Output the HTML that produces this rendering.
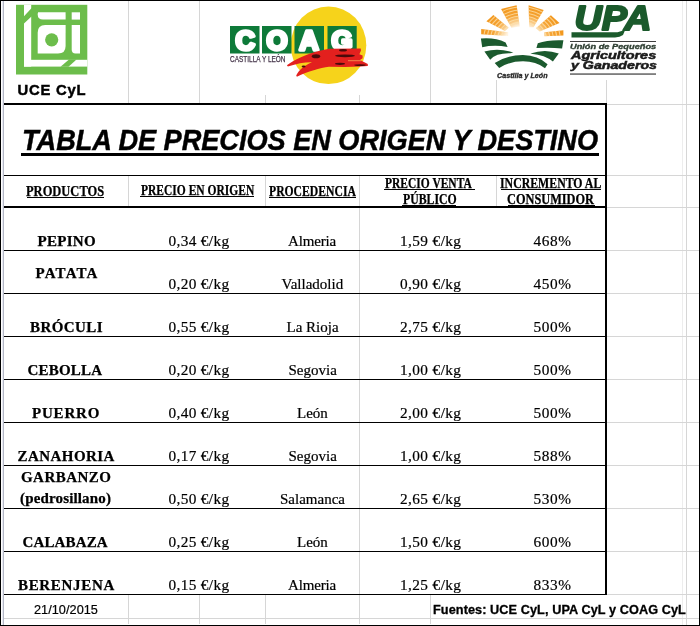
<!DOCTYPE html>
<html><head><meta charset="utf-8"><title>Tabla de precios</title>
<style>
html,body{margin:0;padding:0;background:#fff;}
body{width:700px;height:626px;position:relative;overflow:hidden;}
.t{position:absolute;white-space:pre;line-height:normal;margin:0;}
.k{position:absolute;background:#000;}
.g{position:absolute;background:#d6d6d6;}
.gf{position:absolute;background:#ededed;}
svg{position:absolute;left:0;top:0;}
</style></head><body>
<!-- grid lines (light gray) -->
<!-- top logo row verticals -->
<div class="g" style="left:128px;top:1px;width:1px;height:102px"></div>
<div class="g" style="left:199px;top:1px;width:1px;height:102px"></div>
<div class="g" style="left:265px;top:1px;width:1px;height:102px"></div>
<div class="g" style="left:359px;top:1px;width:1px;height:102px"></div>
<div class="g" style="left:430px;top:1px;width:1px;height:102px"></div>
<div class="g" style="left:496px;top:1px;width:1px;height:102px"></div>
<div class="g" style="left:606px;top:1px;width:1px;height:102px"></div>
<div class="g" style="left:686px;top:1px;width:1px;height:624px"></div>
<div class="gf" style="left:682px;top:1px;width:1px;height:624px"></div>
<!-- header row verticals -->
<div class="g" style="left:128px;top:176px;width:1px;height:30px"></div>
<div class="g" style="left:265px;top:176px;width:1px;height:30px"></div>
<div class="g" style="left:359px;top:176px;width:1px;height:30px"></div>
<div class="g" style="left:496px;top:176px;width:1px;height:30px"></div>
<!-- data rows vertical -->
<div class="g" style="left:359px;top:208px;width:1px;height:386px"></div>
<!-- footer verticals -->
<div class="g" style="left:128px;top:595px;width:1px;height:29px"></div>
<div class="g" style="left:199px;top:595px;width:1px;height:29px"></div>
<div class="g" style="left:265px;top:595px;width:1px;height:29px"></div>
<div class="g" style="left:359px;top:595px;width:1px;height:29px"></div>
<div class="g" style="left:430px;top:595px;width:1px;height:29px"></div>
<!-- right side horizontals -->
<div class="g" style="left:607px;top:104px;width:92px;height:1px"></div>
<div class="g" style="left:607px;top:175px;width:92px;height:1px"></div>
<div class="g" style="left:607px;top:207px;width:92px;height:1px"></div>
<div class="g" style="left:607px;top:250px;width:92px;height:1px"></div>
<div class="g" style="left:607px;top:293px;width:92px;height:1px"></div>
<div class="g" style="left:607px;top:336px;width:92px;height:1px"></div>
<div class="g" style="left:607px;top:379px;width:92px;height:1px"></div>
<div class="g" style="left:607px;top:422px;width:92px;height:1px"></div>
<div class="g" style="left:607px;top:465px;width:92px;height:1px"></div>
<div class="g" style="left:607px;top:508px;width:92px;height:1px"></div>
<div class="g" style="left:607px;top:551px;width:92px;height:1px"></div>
<div class="g" style="left:607px;top:594px;width:92px;height:1px"></div>
<div class="g" style="left:4px;top:618px;width:695px;height:1px"></div>

<!-- frame -->
<div class="k" style="left:0;top:0;width:700px;height:1px"></div>
<div class="k" style="left:0;top:0;width:1px;height:626px"></div>
<div class="k" style="left:699px;top:0;width:1px;height:626px"></div>
<div class="k" style="left:0;top:625px;width:700px;height:1px"></div>
<div style="position:absolute;left:2px;top:1px;width:1px;height:624px;background:#e9eaf3"></div>
<div style="position:absolute;left:3px;top:1px;width:1px;height:624px;background:#b4b8c6"></div>

<!-- table borders -->
<div class="k" style="left:4px;top:103px;width:603px;height:2px"></div>
<div class="k" style="left:605px;top:103px;width:2px;height:492px"></div>
<div class="k" style="left:4px;top:175px;width:601px;height:1px"></div>
<div class="k" style="left:4px;top:206px;width:601px;height:2px"></div>
<div class="k" style="left:4px;top:250px;width:601px;height:1px"></div>
<div class="k" style="left:4px;top:293px;width:601px;height:1px"></div>
<div class="k" style="left:4px;top:336px;width:601px;height:1px"></div>
<div class="k" style="left:4px;top:379px;width:601px;height:1px"></div>
<div class="k" style="left:4px;top:422px;width:601px;height:1px"></div>
<div class="k" style="left:4px;top:465px;width:601px;height:1px"></div>
<div class="k" style="left:4px;top:508px;width:601px;height:1px"></div>
<div class="k" style="left:4px;top:551px;width:601px;height:1px"></div>
<div class="k" style="left:4px;top:594px;width:603px;height:1px"></div>

<!-- underlines -->
<div class="k" style="left:21px;top:153px;width:578px;height:3px"></div>
<div class="k" style="left:27px;top:197px;width:77px;height:1px"></div>
<div class="k" style="left:140px;top:196px;width:114px;height:1px"></div>
<div class="k" style="left:269px;top:197px;width:87px;height:1px"></div>
<div class="k" style="left:384px;top:189px;width:91px;height:1px"></div>
<div class="k" style="left:402px;top:205px;width:54px;height:1px"></div>
<div class="k" style="left:501px;top:189px;width:100px;height:1px"></div>
<div class="k" style="left:508px;top:205px;width:87px;height:1px"></div>

<!-- LOGOS -->
<div style="position:absolute;left:222px;top:1px;width:150px;height:94px;background:#fff"></div>
<div style="position:absolute;left:470px;top:1px;width:192px;height:79px;background:#fff"></div>
<svg width="700" height="110" viewBox="0 0 700 110">
 <defs>
  <radialGradient id="sun" gradientUnits="userSpaceOnUse" cx="522" cy="40" r="40" gradientTransform="translate(522 40) scale(1.08 0.92) translate(-522 -40)">
   <stop offset="0.38" stop-color="#fff3e0"/>
   <stop offset="0.55" stop-color="#f9c57a"/>
   <stop offset="0.7" stop-color="#f5a232"/>
   <stop offset="1" stop-color="#f2961a"/>
  </radialGradient>
 </defs>
 <!-- UCE logo -->
 <g>
  <rect x="16" y="4.8" width="71.3" height="69.7" fill="#6cbd4b"/>
  <g fill="#fff">
   <rect x="24" y="4.8" width="7.2" height="61.8"/>
   <rect x="24" y="59.8" width="63.3" height="6.8"/>
   <path d="M37.7 12.3 H65.6 V19.5 H43 Q37.7 19.5 37.7 14.5 Z"/>
   <path d="M45.2 24.9 H65.6 V46 Q65.6 53.5 58 53.5 H37.7 V32.4 Q37.7 24.9 45.2 24.9 Z"/>
   <rect x="71.7" y="12.3" width="8.3" height="7.3"/>
   <path d="M71.7 24.9 H80 V53.5 H75.5 Q71.7 53.5 71.7 49.5 Z"/>
  </g>
  <g fill="#6cbd4b">
   <path d="M24 16.2 L31.2 8.4 L38 5 L38 13 L31.2 16.8 L24 23.5 Z"/>
   <path d="M69 59.5 L76.5 59.5 L68.5 66.8 L60.5 66.8 Z"/>
   <circle cx="51.7" cy="39.8" r="6.6"/>
  </g>
 </g>
 <!-- COAG logo -->
 <ellipse cx="328.5" cy="45.3" rx="37.8" ry="38.8" fill="#f6d31b"/>
 <g fill="#0e7a39">
  <rect x="230" y="26" width="29.5" height="27.5"/>
  <rect x="262" y="26" width="29.5" height="27.5"/>
  <rect x="294.5" y="26" width="29.5" height="27.5"/>
  <rect x="327.5" y="26" width="29.2" height="27.5"/>
 </g>
 <g font-family="'Liberation Sans',Arial,sans-serif" font-weight="bold" font-size="27" fill="#fff" stroke="#fff" stroke-width="3.4" stroke-linejoin="round" text-anchor="middle">
  <text x="245.2" y="49.5">C</text>
  <text x="277" y="49.5">O</text>
  <text x="309" y="49.5">A</text>
  <text x="342" y="49.5">G</text>
 </g>
 <g fill="#e3201e">
  <path d="M286.9 65.2 C293 60.5 305 54 322 50.2 L329 48.8 L360.7 48.4 L361 50.6 L359.4 54.2 L362.6 55.6 L362.6 58.2 L360 60 L367.8 64 L367.8 66 L360 66.6 L345 66.9 L329 66.8 C320 67.8 308 71.5 296.9 76.8 L296.2 75.5 C299 70 304 65.5 312 62.2 C305 62 297 63.5 287.9 66.5 Z"/>
 </g>
 <g fill="#4a0a0a">
  <ellipse cx="316" cy="56.2" rx="4.2" ry="2"/>
  <ellipse cx="343" cy="50.3" rx="4" ry="1.3"/>
  <ellipse cx="345" cy="55.8" rx="10" ry="1.4"/>
  <ellipse cx="340" cy="63.8" rx="5" ry="1.1"/>
  <ellipse cx="303.6" cy="66.5" rx="2" ry="1"/>
  <ellipse cx="360" cy="65.1" rx="6" ry="0.9"/>
 </g>
 <rect x="348" y="60.2" width="13" height="1" fill="#f0884a"/>
 <!-- UPA sun logo -->
 <clipPath id="rayclip">
  <path d="M481.2 29 L508.2 32.2 L508.2 36 L481.2 34.3 Z"/>
  <path d="M486.4 21.3 L493.4 14.9 L508.8 27.7 L505 30.9 Z"/>
  <path d="M501.1 9.1 L516.6 5.2 L519.8 26.4 L511.4 27.7 Z"/>
  <path d="M528.6 5.3 L543.7 9.9 L533.5 27.2 L529.2 27.2 Z"/>
  <path d="M550.9 15.2 L559.5 23 L539.7 31.6 L535.8 28.3 Z"/>
  <path d="M563.4 30.3 L563.4 35.6 L544.3 36.2 L544.3 32.3 Z"/>
</clipPath>
 <g fill="url(#sun)">
  <path d="M481.2 29 L508.2 32.2 L508.2 36 L481.2 34.3 Z"/>
  <path d="M486.4 21.3 L493.4 14.9 L508.8 27.7 L505 30.9 Z"/>
  <path d="M501.1 9.1 L516.6 5.2 L519.8 26.4 L511.4 27.7 Z"/>
  <path d="M528.6 5.3 L543.7 9.9 L533.5 27.2 L529.2 27.2 Z"/>
  <path d="M550.9 15.2 L559.5 23 L539.7 31.6 L535.8 28.3 Z"/>
  <path d="M563.4 30.3 L563.4 35.6 L544.3 36.2 L544.3 32.3 Z"/>
 </g>
 <g clip-path="url(#rayclip)" fill="none" stroke="#fde3b0" stroke-width="1.1" opacity="0.75">
  <ellipse cx="522" cy="40" rx="21" ry="18"/>
  <ellipse cx="522" cy="40" rx="24.5" ry="21"/>
  <ellipse cx="522" cy="40" rx="28" ry="24"/>
  <ellipse cx="522" cy="40" rx="31.5" ry="27"/>
  <ellipse cx="522" cy="40" rx="35" ry="30"/>
  <ellipse cx="522" cy="40" rx="38.5" ry="33"/>
 </g>
 <g fill="#1b5a2e">
  <path d="M480.9 38.5 Q495 37.3 505.6 42.4 L507.6 46.9 Q494 44.4 482.2 47.2 Z"/>
  <path d="M484.4 51.4 Q499 47.6 513.3 52.6 L510.1 53.3 Q496 53 490.2 59.7 Z"/>
  <path d="M494.7 62.9 Q508 55 523 55.1 Q538 55.4 547.6 64.3 L545 68.2 Q536 61.4 523 61.3 Q509 61.4 499.2 68 Z"/>
  <path d="M537.8 43.2 Q548 39.6 563.4 40.3 L562.1 48.5 Q550 47.2 536.4 48.1 Z"/>
  <path d="M530.5 53.4 Q545 48.4 558.8 53.4 L552.9 61.6 Q545 54.8 531.2 53.7 Z"/>
 </g>
 <!-- UPA big letters -->
 <path d="M571.5 32.2 L617.5 32.2 Q622 31.5 626 28 L623 35 Q620 37.4 615 37.4 L571.5 37.4 Z" fill="#1b5a2c"/>
 <text x="574.5" y="29.6" font-family="'Liberation Sans',Arial,sans-serif" font-weight="bold" font-style="italic" font-size="35" fill="#1b5a2c" stroke="#1b5a2c" stroke-width="2" stroke-linejoin="round" textLength="77" lengthAdjust="spacingAndGlyphs">UPA</text>
 <rect x="570" y="41" width="86" height="0.9" fill="#2a2a2a"/>
 <rect x="570" y="73.5" width="86" height="1.1" fill="#2a2a2a"/>
</svg>

<div class="t" style="left:26.00px;top:183.60px;font-family:'Liberation Serif','Times New Roman',serif;font-weight:bold;font-style:normal;font-size:13.6px;letter-spacing:0.000px;color:#000;transform:scaleX(0.9181);transform-origin:0 0;-webkit-text-stroke:0.25px #000;">PRODUCTOS</div>
<div class="t" style="left:140.80px;top:182.60px;font-family:'Liberation Serif','Times New Roman',serif;font-weight:bold;font-style:normal;font-size:13.6px;letter-spacing:0.000px;color:#000;transform:scaleX(0.8471);transform-origin:0 0;-webkit-text-stroke:0.25px #000;">PRECIO EN ORIGEN</div>
<div class="t" style="left:269.20px;top:183.80px;font-family:'Liberation Serif','Times New Roman',serif;font-weight:bold;font-style:normal;font-size:13.6px;letter-spacing:0.000px;color:#000;transform:scaleX(0.8581);transform-origin:0 0;-webkit-text-stroke:0.25px #000;">PROCEDENCIA</div>
<div class="t" style="left:384.80px;top:175.60px;font-family:'Liberation Serif','Times New Roman',serif;font-weight:bold;font-style:normal;font-size:13.6px;letter-spacing:0.000px;color:#000;transform:scaleX(0.8458);transform-origin:0 0;-webkit-text-stroke:0.25px #000;">PRECIO VENTA</div>
<div class="t" style="left:402.60px;top:191.80px;font-family:'Liberation Serif','Times New Roman',serif;font-weight:bold;font-style:normal;font-size:13.6px;letter-spacing:0.000px;color:#000;transform:scaleX(0.8670);transform-origin:0 0;-webkit-text-stroke:0.25px #000;">PÚBLICO</div>
<div class="t" style="left:499.80px;top:175.60px;font-family:'Liberation Serif','Times New Roman',serif;font-weight:bold;font-style:normal;font-size:13.6px;letter-spacing:0.000px;color:#000;transform:scaleX(0.8696);transform-origin:0 0;-webkit-text-stroke:0.25px #000;">INCREMENTO AL</div>
<div class="t" style="left:507.00px;top:191.80px;font-family:'Liberation Serif','Times New Roman',serif;font-weight:bold;font-style:normal;font-size:13.6px;letter-spacing:0.000px;color:#000;transform:scaleX(0.9074);transform-origin:0 0;-webkit-text-stroke:0.25px #000;">CONSUMIDOR</div>
<div class="t" style="left:37.50px;top:232.50px;font-family:'Liberation Serif','Times New Roman',serif;font-weight:bold;font-style:normal;font-size:15px;letter-spacing:0.280px;color:#000;-webkit-text-stroke:0.25px #000;">PEPINO</div>
<div class="t" style="left:168.50px;top:231.50px;font-family:'Liberation Serif','Times New Roman',serif;font-weight:normal;font-style:normal;font-size:15.3px;letter-spacing:0.350px;color:#000;-webkit-text-stroke:0.2px #000;">0,34 €/kg</div>
<div class="t" style="left:288.00px;top:232.50px;font-family:'Liberation Serif','Times New Roman',serif;font-weight:normal;font-style:normal;font-size:15.0px;letter-spacing:-0.167px;color:#000;-webkit-text-stroke:0.2px #000;">Almeria</div>
<div class="t" style="left:400.00px;top:231.50px;font-family:'Liberation Serif','Times New Roman',serif;font-weight:normal;font-style:normal;font-size:15.3px;letter-spacing:0.400px;color:#000;-webkit-text-stroke:0.2px #000;">1,59 €/kg</div>
<div class="t" style="left:533.50px;top:231.50px;font-family:'Liberation Serif','Times New Roman',serif;font-weight:normal;font-style:normal;font-size:15.3px;letter-spacing:0.600px;color:#000;-webkit-text-stroke:0.2px #000;">468%</div>
<div class="t" style="left:35.50px;top:265.00px;font-family:'Liberation Serif','Times New Roman',serif;font-weight:bold;font-style:normal;font-size:15px;letter-spacing:1.160px;color:#000;-webkit-text-stroke:0.25px #000;">PATATA</div>
<div class="t" style="left:168.50px;top:274.50px;font-family:'Liberation Serif','Times New Roman',serif;font-weight:normal;font-style:normal;font-size:15.3px;letter-spacing:0.350px;color:#000;-webkit-text-stroke:0.2px #000;">0,20 €/kg</div>
<div class="t" style="left:281.50px;top:275.50px;font-family:'Liberation Serif','Times New Roman',serif;font-weight:normal;font-style:normal;font-size:15.0px;letter-spacing:0.000px;color:#000;-webkit-text-stroke:0.2px #000;">Valladolid</div>
<div class="t" style="left:400.00px;top:274.50px;font-family:'Liberation Serif','Times New Roman',serif;font-weight:normal;font-style:normal;font-size:15.3px;letter-spacing:0.400px;color:#000;-webkit-text-stroke:0.2px #000;">0,90 €/kg</div>
<div class="t" style="left:533.50px;top:274.50px;font-family:'Liberation Serif','Times New Roman',serif;font-weight:normal;font-style:normal;font-size:15.3px;letter-spacing:0.600px;color:#000;-webkit-text-stroke:0.2px #000;">450%</div>
<div class="t" style="left:30.00px;top:318.50px;font-family:'Liberation Serif','Times New Roman',serif;font-weight:bold;font-style:normal;font-size:15px;letter-spacing:0.433px;color:#000;-webkit-text-stroke:0.25px #000;">BRÓCULI</div>
<div class="t" style="left:168.50px;top:317.50px;font-family:'Liberation Serif','Times New Roman',serif;font-weight:normal;font-style:normal;font-size:15.3px;letter-spacing:0.350px;color:#000;-webkit-text-stroke:0.2px #000;">0,55 €/kg</div>
<div class="t" style="left:286.50px;top:318.50px;font-family:'Liberation Serif','Times New Roman',serif;font-weight:normal;font-style:normal;font-size:15.0px;letter-spacing:0.000px;color:#000;-webkit-text-stroke:0.2px #000;">La Rioja</div>
<div class="t" style="left:400.00px;top:317.50px;font-family:'Liberation Serif','Times New Roman',serif;font-weight:normal;font-style:normal;font-size:15.3px;letter-spacing:0.400px;color:#000;-webkit-text-stroke:0.2px #000;">2,75 €/kg</div>
<div class="t" style="left:533.50px;top:317.50px;font-family:'Liberation Serif','Times New Roman',serif;font-weight:normal;font-style:normal;font-size:15.3px;letter-spacing:0.600px;color:#000;-webkit-text-stroke:0.2px #000;">500%</div>
<div class="t" style="left:27.50px;top:361.50px;font-family:'Liberation Serif','Times New Roman',serif;font-weight:bold;font-style:normal;font-size:15px;letter-spacing:0.200px;color:#000;-webkit-text-stroke:0.25px #000;">CEBOLLA</div>
<div class="t" style="left:168.50px;top:360.50px;font-family:'Liberation Serif','Times New Roman',serif;font-weight:normal;font-style:normal;font-size:15.3px;letter-spacing:0.350px;color:#000;-webkit-text-stroke:0.2px #000;">0,20 €/kg</div>
<div class="t" style="left:288.50px;top:361.50px;font-family:'Liberation Serif','Times New Roman',serif;font-weight:normal;font-style:normal;font-size:15.0px;letter-spacing:0.000px;color:#000;-webkit-text-stroke:0.2px #000;">Segovia</div>
<div class="t" style="left:400.00px;top:360.50px;font-family:'Liberation Serif','Times New Roman',serif;font-weight:normal;font-style:normal;font-size:15.3px;letter-spacing:0.400px;color:#000;-webkit-text-stroke:0.2px #000;">1,00 €/kg</div>
<div class="t" style="left:533.50px;top:360.50px;font-family:'Liberation Serif','Times New Roman',serif;font-weight:normal;font-style:normal;font-size:15.3px;letter-spacing:0.600px;color:#000;-webkit-text-stroke:0.2px #000;">500%</div>
<div class="t" style="left:32.00px;top:404.50px;font-family:'Liberation Serif','Times New Roman',serif;font-weight:bold;font-style:normal;font-size:15px;letter-spacing:0.800px;color:#000;-webkit-text-stroke:0.25px #000;">PUERRO</div>
<div class="t" style="left:168.50px;top:403.50px;font-family:'Liberation Serif','Times New Roman',serif;font-weight:normal;font-style:normal;font-size:15.3px;letter-spacing:0.350px;color:#000;-webkit-text-stroke:0.2px #000;">0,40 €/kg</div>
<div class="t" style="left:297.00px;top:404.50px;font-family:'Liberation Serif','Times New Roman',serif;font-weight:normal;font-style:normal;font-size:15.0px;letter-spacing:0.000px;color:#000;-webkit-text-stroke:0.2px #000;">León</div>
<div class="t" style="left:400.00px;top:403.50px;font-family:'Liberation Serif','Times New Roman',serif;font-weight:normal;font-style:normal;font-size:15.3px;letter-spacing:0.400px;color:#000;-webkit-text-stroke:0.2px #000;">2,00 €/kg</div>
<div class="t" style="left:533.50px;top:403.50px;font-family:'Liberation Serif','Times New Roman',serif;font-weight:normal;font-style:normal;font-size:15.3px;letter-spacing:0.600px;color:#000;-webkit-text-stroke:0.2px #000;">500%</div>
<div class="t" style="left:17.50px;top:447.50px;font-family:'Liberation Serif','Times New Roman',serif;font-weight:bold;font-style:normal;font-size:15px;letter-spacing:0.450px;color:#000;-webkit-text-stroke:0.25px #000;">ZANAHORIA</div>
<div class="t" style="left:168.50px;top:446.50px;font-family:'Liberation Serif','Times New Roman',serif;font-weight:normal;font-style:normal;font-size:15.3px;letter-spacing:0.350px;color:#000;-webkit-text-stroke:0.2px #000;">0,17 €/kg</div>
<div class="t" style="left:288.50px;top:447.50px;font-family:'Liberation Serif','Times New Roman',serif;font-weight:normal;font-style:normal;font-size:15.0px;letter-spacing:0.000px;color:#000;-webkit-text-stroke:0.2px #000;">Segovia</div>
<div class="t" style="left:400.00px;top:446.50px;font-family:'Liberation Serif','Times New Roman',serif;font-weight:normal;font-style:normal;font-size:15.3px;letter-spacing:0.400px;color:#000;-webkit-text-stroke:0.2px #000;">1,00 €/kg</div>
<div class="t" style="left:533.50px;top:446.50px;font-family:'Liberation Serif','Times New Roman',serif;font-weight:normal;font-style:normal;font-size:15.3px;letter-spacing:0.600px;color:#000;-webkit-text-stroke:0.2px #000;">588%</div>
<div class="t" style="left:21.00px;top:469.40px;font-family:'Liberation Serif','Times New Roman',serif;font-weight:bold;font-style:normal;font-size:15px;letter-spacing:0.457px;color:#000;-webkit-text-stroke:0.25px #000;">GARBANZO</div>
<div class="t" style="left:20.00px;top:489.60px;font-family:'Liberation Serif','Times New Roman',serif;font-weight:bold;font-style:normal;font-size:15px;letter-spacing:0.154px;color:#000;-webkit-text-stroke:0.25px #000;">(pedrosillano)</div>
<div class="t" style="left:168.50px;top:489.50px;font-family:'Liberation Serif','Times New Roman',serif;font-weight:normal;font-style:normal;font-size:15.3px;letter-spacing:0.350px;color:#000;-webkit-text-stroke:0.2px #000;">0,50 €/kg</div>
<div class="t" style="left:280.00px;top:490.50px;font-family:'Liberation Serif','Times New Roman',serif;font-weight:normal;font-style:normal;font-size:15.0px;letter-spacing:0.000px;color:#000;-webkit-text-stroke:0.2px #000;">Salamanca</div>
<div class="t" style="left:400.00px;top:489.50px;font-family:'Liberation Serif','Times New Roman',serif;font-weight:normal;font-style:normal;font-size:15.3px;letter-spacing:0.400px;color:#000;-webkit-text-stroke:0.2px #000;">2,65 €/kg</div>
<div class="t" style="left:533.50px;top:489.50px;font-family:'Liberation Serif','Times New Roman',serif;font-weight:normal;font-style:normal;font-size:15.3px;letter-spacing:0.600px;color:#000;-webkit-text-stroke:0.2px #000;">530%</div>
<div class="t" style="left:22.50px;top:533.50px;font-family:'Liberation Serif','Times New Roman',serif;font-weight:bold;font-style:normal;font-size:15px;letter-spacing:0.143px;color:#000;-webkit-text-stroke:0.25px #000;">CALABAZA</div>
<div class="t" style="left:168.50px;top:532.50px;font-family:'Liberation Serif','Times New Roman',serif;font-weight:normal;font-style:normal;font-size:15.3px;letter-spacing:0.350px;color:#000;-webkit-text-stroke:0.2px #000;">0,25 €/kg</div>
<div class="t" style="left:297.00px;top:533.50px;font-family:'Liberation Serif','Times New Roman',serif;font-weight:normal;font-style:normal;font-size:15.0px;letter-spacing:0.000px;color:#000;-webkit-text-stroke:0.2px #000;">León</div>
<div class="t" style="left:400.00px;top:532.50px;font-family:'Liberation Serif','Times New Roman',serif;font-weight:normal;font-style:normal;font-size:15.3px;letter-spacing:0.400px;color:#000;-webkit-text-stroke:0.2px #000;">1,50 €/kg</div>
<div class="t" style="left:533.50px;top:532.50px;font-family:'Liberation Serif','Times New Roman',serif;font-weight:normal;font-style:normal;font-size:15.3px;letter-spacing:0.600px;color:#000;-webkit-text-stroke:0.2px #000;">600%</div>
<div class="t" style="left:18.00px;top:576.50px;font-family:'Liberation Serif','Times New Roman',serif;font-weight:bold;font-style:normal;font-size:15px;letter-spacing:0.675px;color:#000;-webkit-text-stroke:0.25px #000;">BERENJENA</div>
<div class="t" style="left:168.50px;top:575.50px;font-family:'Liberation Serif','Times New Roman',serif;font-weight:normal;font-style:normal;font-size:15.3px;letter-spacing:0.350px;color:#000;-webkit-text-stroke:0.2px #000;">0,15 €/kg</div>
<div class="t" style="left:288.00px;top:576.50px;font-family:'Liberation Serif','Times New Roman',serif;font-weight:normal;font-style:normal;font-size:15.0px;letter-spacing:-0.167px;color:#000;-webkit-text-stroke:0.2px #000;">Almeria</div>
<div class="t" style="left:400.00px;top:575.50px;font-family:'Liberation Serif','Times New Roman',serif;font-weight:normal;font-style:normal;font-size:15.3px;letter-spacing:0.400px;color:#000;-webkit-text-stroke:0.2px #000;">1,25 €/kg</div>
<div class="t" style="left:533.50px;top:575.50px;font-family:'Liberation Serif','Times New Roman',serif;font-weight:normal;font-style:normal;font-size:15.3px;letter-spacing:0.600px;color:#000;-webkit-text-stroke:0.2px #000;">833%</div>
<div class="t" style="left:22.00px;top:123.90px;font-family:'Liberation Sans',Arial,sans-serif;font-weight:bold;font-style:italic;font-size:28.6px;letter-spacing:-0.030px;color:#000;transform:scaleX(0.9500);transform-origin:0 0;-webkit-text-stroke:0.45px #000;">TABLA DE PRECIOS EN ORIGEN Y DESTINO</div>
<div class="t" style="left:17.50px;top:82.00px;font-family:'Liberation Sans',Arial,sans-serif;font-weight:bold;font-style:normal;font-size:14.8px;letter-spacing:0.800px;color:#000;-webkit-text-stroke:0.45px #000;">UCE CyL</div>
<div class="t" style="left:34.00px;top:603.30px;font-family:'Liberation Sans',Arial,sans-serif;font-weight:normal;font-style:normal;font-size:12.7px;letter-spacing:0.044px;color:#000;-webkit-text-stroke:0.2px #000;">21/10/2015</div>
<div class="t" style="left:433.00px;top:603.30px;font-family:'Liberation Sans',Arial,sans-serif;font-weight:bold;font-style:normal;font-size:12.7px;letter-spacing:0.080px;color:#000;-webkit-text-stroke:0.3px #000;">Fuentes: UCE CyL, UPA CyL y COAG CyL</div>
<div class="t" style="left:230.20px;top:54.30px;font-family:'Liberation Sans',Arial,sans-serif;font-weight:normal;font-style:normal;font-size:8.3px;letter-spacing:0.000px;color:#45354a;transform:scaleX(0.7803);transform-origin:0 0;-webkit-text-stroke:0.25px #45354a;">CASTILLA Y LEÓN</div>
<div class="t" style="left:569.80px;top:41.90px;font-family:'Liberation Sans',Arial,sans-serif;font-weight:bold;font-style:italic;font-size:8.0px;letter-spacing:0.000px;color:#2f3f33;transform:scaleX(1.1542);transform-origin:0 0;-webkit-text-stroke:0.35px #2f3f33;">Unión de Pequeños</div>
<div class="t" style="left:570.80px;top:49.00px;font-family:'Liberation Sans',Arial,sans-serif;font-weight:bold;font-style:italic;font-size:10.8px;letter-spacing:0.000px;color:#1b1b1b;transform:scaleX(1.3397);transform-origin:0 0;-webkit-text-stroke:0.5px #1b1b1b;">Agricultores</div>
<div class="t" style="left:571.20px;top:58.90px;font-family:'Liberation Sans',Arial,sans-serif;font-weight:bold;font-style:italic;font-size:10.6px;letter-spacing:0.000px;color:#1b1b1b;transform:scaleX(1.3400);transform-origin:0 0;-webkit-text-stroke:0.5px #1b1b1b;">y Ganaderos</div>
<div class="t" style="left:497.00px;top:71.90px;font-family:'Liberation Sans',Arial,sans-serif;font-weight:bold;font-style:italic;font-size:6.4px;letter-spacing:0.000px;color:#2a2a2a;transform:scaleX(1.1200);transform-origin:0 0;-webkit-text-stroke:0.3px #2a2a2a;">Castilla y León</div>
</body></html>
